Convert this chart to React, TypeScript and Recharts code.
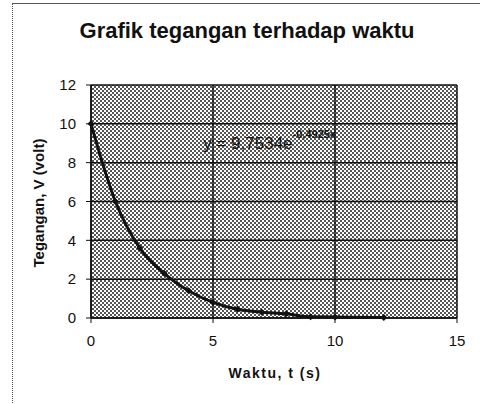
import React from "react";
import {
  LineChart,
  Line,
  XAxis,
  YAxis,
  CartesianGrid,
  ReferenceDot,
} from "recharts";

const times = [0, 1, 2, 3, 4, 5, 6, 7, 8, 9, 10, 12];
const voltages = [10, 6.0, 3.6, 2.3, 1.4, 0.8, 0.45, 0.3, 0.22, 0.06, 0.05, 0.02];
const xTicks = [0, 5, 10, 15];
const yTicks = [0, 2, 4, 6, 8, 10, 12];
const titleText = "Grafik tegangan terhadap waktu";
const xLabelText = "Waktu, t (s)";
const yLabelText = "Tegangan, V (volt)";
const eqMain = "y = 9,7534e";
const eqExp = "-0,4925x";
const eqPos = { t: 4.6, v: 8.7 };

const data = times.map((t, i) => ({ t, v: voltages[i] }));

const FONT = "'Liberation Sans', Arial, sans-serif";

const Diamond = (props: any) => {
  const { cx, cy } = props;
  if (cx == null || cy == null) return null;
  const s = 3.5;
  return (
    <path
      d={`M${cx},${cy - s} L${cx + s},${cy} L${cx},${cy + s} L${cx - s},${cy} Z`}
      fill="#111"
    />
  );
};

const EqLabel = (props: any) => {
  const vb = props.viewBox || {};
  const x = (vb.x ?? 0) + (vb.width ?? 0) / 2;
  const y = (vb.y ?? 0) + (vb.height ?? 0) / 2;
  return (
    <text x={x} y={y} fontFamily={FONT} fill="#111">
      <tspan fontSize={17}>{eqMain}</tspan>
      <tspan fontSize={11} fontWeight="bold" dy={-11}>
        {eqExp}
      </tspan>
    </text>
  );
};

export default function App() {
  return (
    <div
      style={{
        position: "absolute",
        left: 0,
        top: 0,
        width: 480,
        height: 404,
        background: "#fff",
        fontFamily: FONT,
      }}
    >
      <svg width={0} height={0} style={{ position: "absolute" }}>
        <defs>
          <pattern id="dots" width={4} height={4} patternUnits="userSpaceOnUse">
            <rect x={0} y={0} width={4} height={4} fill="#fff" />
            <rect x={0} y={0} width={2} height={2} fill="#555" />
            <rect x={2} y={2} width={2} height={2} fill="#555" />
          </pattern>
        </defs>
      </svg>
      <div
        style={{
          position: "absolute",
          left: 12,
          top: 3,
          width: 468,
          height: 401,
          borderTop: "1px solid #555",
          borderLeft: "1px dotted #555",
        }}
      />
      <div
        style={{
          position: "absolute",
          left: 0,
          top: 18,
          width: 494,
          textAlign: "center",
          fontSize: 22,
          fontWeight: "bold",
          color: "#111",
        }}
      >
        {titleText}
      </div>
      <div
        style={{
          position: "absolute",
          left: 38,
          top: 203,
          transform: "translate(-50%, -50%) rotate(-90deg)",
          whiteSpace: "nowrap",
          fontSize: 15,
          fontWeight: "bold",
          color: "#111",
        }}
      >
        {yLabelText}
      </div>
      <div
        style={{
          position: "absolute",
          left: 275,
          top: 373,
          transform: "translate(-50%, -50%)",
          whiteSpace: "nowrap",
          fontSize: 14,
          fontWeight: "bold",
          letterSpacing: 1.5,
          color: "#111",
        }}
      >
        {xLabelText}
      </div>
      <div style={{ position: "absolute", left: 0, top: 0 }}>
        <LineChart
          width={480}
          height={404}
          data={data}
          margin={{ top: 85, right: 23, bottom: 56, left: 51 }}
        >
          <CartesianGrid
            fill="url(#dots)"
            fillOpacity={1}
            stroke="#111"
            strokeWidth={1.5}
            horizontalValues={yTicks}
            verticalValues={xTicks}
          />
          <XAxis
            dataKey="t"
            type="number"
            domain={[0, 15]}
            ticks={xTicks}
            height={30}
            tickSize={5}
            tickMargin={12}
            axisLine={{ stroke: "#111", strokeWidth: 1.5 }}
            tickLine={{ stroke: "#111" }}
            tick={{ fill: "#111", fontSize: 15, fontFamily: FONT }}
          />
          <YAxis
            type="number"
            domain={[0, 12]}
            ticks={yTicks}
            width={40}
            tickSize={5}
            tickMargin={10}
            axisLine={{ stroke: "#111", strokeWidth: 1.5 }}
            tickLine={{ stroke: "#111" }}
            tick={{ fill: "#111", fontSize: 15, fontFamily: FONT }}
          />
          <Line
            dataKey="v"
            type="monotone"
            stroke="#111"
            strokeWidth={3}
            dot={<Diamond />}
            activeDot={false}
            isAnimationActive={false}
          />
          <ReferenceDot
            x={eqPos.t}
            y={eqPos.v}
            r={0}
            fill="none"
            stroke="none"
            label={<EqLabel />}
          />
        </LineChart>
      </div>
    </div>
  );
}
